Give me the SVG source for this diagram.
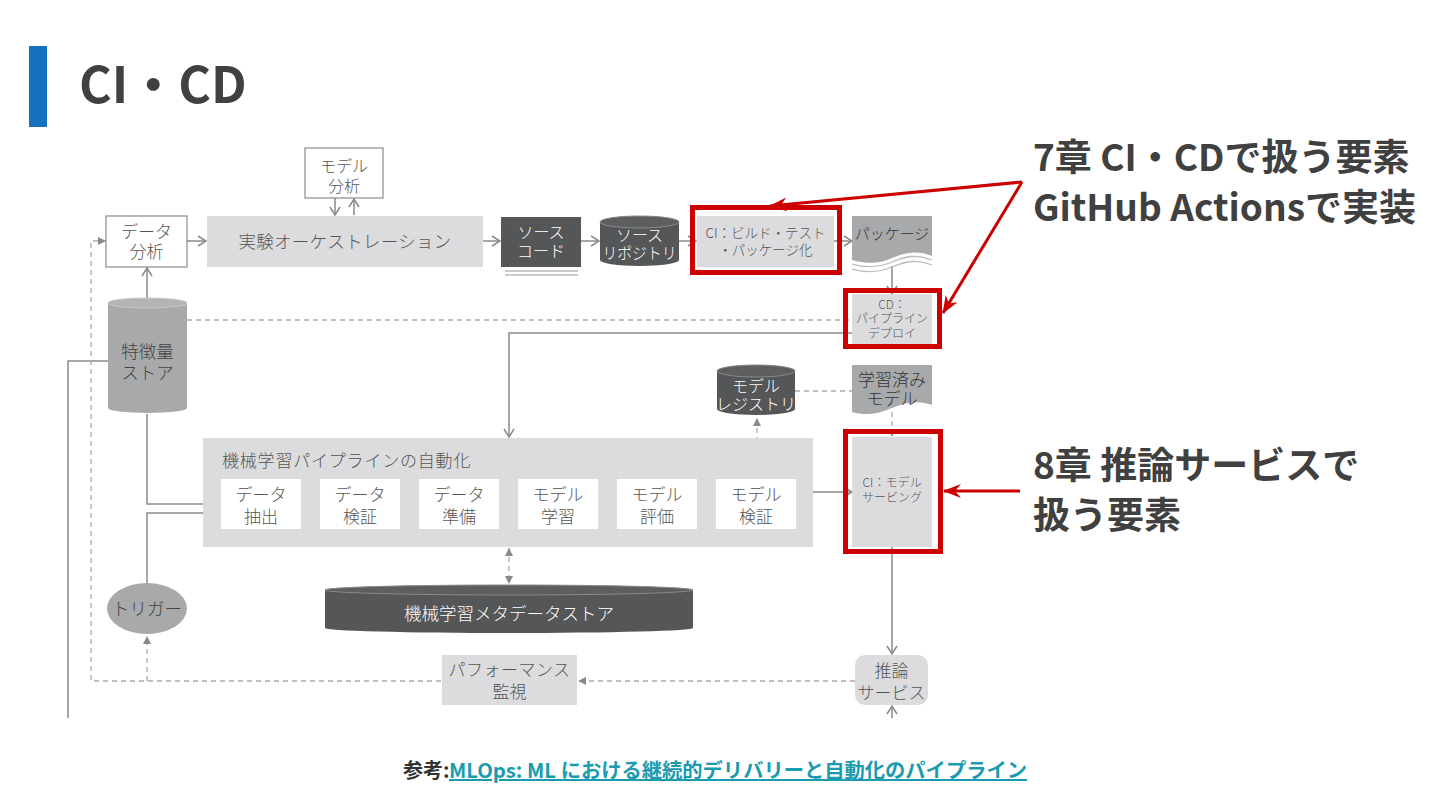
<svg xmlns="http://www.w3.org/2000/svg" width="1440" height="810" viewBox="0 0 1440 810">
<defs>
<style>
text{font-family:"Noto Sans CJK JP","Noto Sans",sans-serif;}
.t{font-size:17px;fill:#555;text-anchor:middle;font-weight:300;}
.w{font-size:16px;fill:#fff;text-anchor:middle;font-weight:300;}
.s{font-size:12px;fill:#555;text-anchor:middle;font-weight:300;}
.lb{fill:#dcdcde;}
.dk{fill:#555658;}
.md{fill:#a8a9ab;}
.wb{fill:#fff;}
.ob{fill:#fff;stroke:#8a8a8a;stroke-width:1.2;}
.c{fill:none;stroke:#8a8a8a;stroke-width:1.5;}
.d{fill:none;stroke:#aaa;stroke-width:1.3;stroke-dasharray:5 4;}
.rb{fill:none;stroke:#cc0000;stroke-width:5;}
.rl{fill:none;stroke:#cc0000;stroke-width:3;}
.big{font-size:37px;font-weight:700;fill:#404040;}
</style>
<marker id="a" viewBox="0 0 10 12" refX="9" refY="6" markerWidth="10" markerHeight="12" markerUnits="userSpaceOnUse" orient="auto"><path d="M1,1 L9,6 L1,11" fill="none" stroke="#8a8a8a" stroke-width="1.5"/></marker>
<marker id="tr" viewBox="0 0 8 8" refX="8" refY="4" markerWidth="8" markerHeight="8" markerUnits="userSpaceOnUse" orient="auto-start-reverse"><path d="M0,0 L8,4 L0,8 Z" fill="#8a8a8a"/></marker>
<marker id="r" viewBox="0 0 18 14" refX="17" refY="7" markerWidth="18" markerHeight="14" markerUnits="userSpaceOnUse" orient="auto"><path d="M0,0 L18,7 L0,14 L6,7 Z" fill="#cc0000"/></marker>
</defs>
<rect width="1440" height="810" fill="#fff"/>

<g id="title">
<rect x="29" y="46" width="18" height="81" fill="#1570c0"/>
<text x="79" y="103" style="font-size:50px;font-weight:700;fill:#404040">CI・CD</text>
</g>

<g id="connectors">
<line class="c" x1="335" y1="198" x2="335" y2="215" marker-end="url(#a)"/>
<line class="c" x1="354" y1="215" x2="354" y2="199" marker-end="url(#a)"/>
<line class="c" x1="187" y1="241" x2="206" y2="241" marker-end="url(#a)"/>
<line class="c" x1="483" y1="241" x2="500" y2="241" marker-end="url(#a)"/>
<line class="c" x1="581" y1="241" x2="599" y2="241" marker-end="url(#a)"/>
<line class="c" x1="679" y1="241" x2="696" y2="241" marker-end="url(#a)"/>
<line class="c" x1="834" y1="241" x2="852" y2="241" marker-end="url(#a)"/>
<line class="c" x1="892" y1="266" x2="892" y2="294" marker-end="url(#a)"/>
<line class="c" x1="147" y1="298" x2="147" y2="268" marker-end="url(#a)"/>
<polyline class="c" points="852,333 509,333 509,437" marker-end="url(#a)"/>
<polyline class="c" points="147,414 147,504 220,504" marker-end="url(#a)"/>
<polyline class="c" points="147,583 147,513 220,513" marker-end="url(#a)"/>
<line class="c" x1="302" y1="504" x2="319" y2="504" marker-end="url(#a)"/>
<line class="c" x1="401" y1="504" x2="418" y2="504" marker-end="url(#a)"/>
<line class="c" x1="500" y1="504" x2="517" y2="504" marker-end="url(#a)"/>
<line class="c" x1="599" y1="504" x2="616" y2="504" marker-end="url(#a)"/>
<line class="c" x1="698" y1="504" x2="715" y2="504" marker-end="url(#a)"/>
<line class="c" x1="813" y1="492" x2="852" y2="492" marker-end="url(#a)"/>
<line class="c" x1="892" y1="547" x2="892" y2="654" marker-end="url(#a)"/>
<line class="c" x1="892" y1="718" x2="892" y2="706" marker-end="url(#a)"/>
<polyline class="c" points="108,361 68,361 68,718"/>
<line class="d" x1="187" y1="320" x2="852" y2="320"/>
<line class="d" x1="855" y1="681" x2="578" y2="681" marker-end="url(#tr)"/>
<polyline class="d" points="441,681 91,681 91,241 106,241" marker-end="url(#tr)"/>
<line class="d" x1="147" y1="681" x2="147" y2="636" marker-end="url(#tr)"/>
<line class="d" x1="757" y1="478" x2="757" y2="418" marker-end="url(#tr)"/>
<line class="d" x1="795" y1="391" x2="852" y2="391"/>
<line class="d" x1="892" y1="412" x2="892" y2="437" marker-end="url(#tr)"/>
<line class="d" x1="509" y1="548" x2="509" y2="584" marker-start="url(#tr)" marker-end="url(#tr)"/>
</g>

<g id="model-analysis">
<rect class="ob" x="305" y="148" width="78" height="50"/>
<text class="t" style="font-size:16px" x="344" y="172">モデル</text>
<text class="t" style="font-size:16px" x="344" y="192">分析</text>
</g>

<g id="data-analysis">
<rect class="ob" x="106" y="216" width="81" height="51"/>
<text class="t" x="146.5" y="238">データ</text>
<text class="t" x="146.5" y="258">分析</text>
</g>

<g id="experiment">
<rect class="lb" x="207" y="216" width="276" height="51"/>
<text class="t" x="345" y="248" style="font-size:17.5px;letter-spacing:0.3px">実験オーケストレーション</text>
</g>

<g id="source-code">
<rect class="dk" x="501" y="217" width="80" height="50"/>
<line x1="505" y1="271" x2="578" y2="271" stroke="#999" stroke-width="1.2"/>
<line x1="505" y1="275" x2="578" y2="275" stroke="#999" stroke-width="1.2"/>
<text class="w" x="541" y="238">ソース</text>
<text class="w" x="541" y="257">コード</text>
</g>

<g id="source-repo">
<path class="dk" d="M600,222 A39.5,6 0 0 1 679,222 V260 A39.5,6 0 0 1 600,260 Z"/>
<ellipse cx="639.5" cy="222" rx="39.5" ry="6" fill="#5d5e60" stroke="#8a8a8a" stroke-width="1"/>
<text class="w" x="639.5" y="241">ソース</text>
<text class="w" x="639.5" y="259" textLength="74" lengthAdjust="spacingAndGlyphs">リポジトリ</text>
</g>

<g id="ci-build">
<rect class="lb" x="697" y="216" width="137" height="51"/>
<rect class="rb" x="692.5" y="207.5" width="147" height="65"/>
<text class="t" x="765.5" y="238" style="font-size:13.5px">CI：ビルド・テスト</text>
<text class="t" x="765.5" y="255" style="font-size:13.5px">・パッケージ化</text>
</g>

<g id="package">
<path class="md" d="M852,216 H932 V256 C918,250 906,252 892,258 C878,264 866,264 852,260 Z"/>
<path d="M852,264 C866,268 878,268 892,262 C906,256 918,254 932,260" fill="none" stroke="#bbb" stroke-width="1.3"/>
<path d="M852,269 C866,273 878,273 892,267 C906,261 918,259 932,265" fill="none" stroke="#bbb" stroke-width="1.3"/>
<text class="t" x="892" y="239" style="font-size:15px;fill:#333">パッケージ</text>
</g>

<g id="cd-deploy">
<rect class="lb" x="852" y="294" width="80" height="50"/>
<rect class="rb" x="845.5" y="290.5" width="94" height="56"/>
<text class="s" x="892" y="309">CD：</text>
<text class="s" x="892" y="323">パイプライン</text>
<text class="s" x="892" y="338">デプロイ</text>
</g>

<g id="feature-store">
<path class="md" d="M108,303 A39.5,5 0 0 1 187,303 V408 A39.5,5 0 0 1 108,408 Z"/>
<ellipse cx="147.5" cy="303" rx="39.5" ry="5" fill="#b3b4b6" stroke="#c8c8c8" stroke-width="1"/>
<text class="t" x="147.5" y="358" style="fill:#444;font-size:17.5px">特徴量</text>
<text class="t" x="147.5" y="379" style="fill:#444;font-size:17.5px">ストア</text>
</g>

<g id="model-registry">
<path class="dk" d="M717,371 A39,6 0 0 1 795,371 V409 A39,6 0 0 1 717,409 Z"/>
<ellipse cx="756" cy="371" rx="39" ry="6" fill="#5d5e60" stroke="#8a8a8a" stroke-width="1"/>
<text class="w" x="756" y="392">モデル</text>
<text class="w" x="756" y="410">レジストリ</text>
</g>

<g id="trained-model">
<path class="md" d="M852,365 H932 V405 C918,400 906,402 892,408 C878,414 866,416 852,412 Z"/>
<text class="t" x="892" y="386" style="fill:#333">学習済み</text>
<text class="t" x="892" y="405" style="fill:#333">モデル</text>
</g>

<g id="pipeline">
<rect class="lb" x="203" y="438" width="610" height="109"/>
<text x="222" y="467" style="font-size:17px;fill:#555;font-weight:300;letter-spacing:0.8px">機械学習パイプラインの自動化</text>
</g>

<g id="data-extract">
<rect class="wb" x="221" y="479" width="80" height="50"/>
<text class="t" x="261" y="501">データ</text>
<text class="t" x="261" y="523">抽出</text>
</g>
<g id="data-validate">
<rect class="wb" x="320" y="479" width="80" height="50"/>
<text class="t" x="360" y="501">データ</text>
<text class="t" x="360" y="523">検証</text>
</g>
<g id="data-prepare">
<rect class="wb" x="419" y="479" width="80" height="50"/>
<text class="t" x="459" y="501">データ</text>
<text class="t" x="459" y="523">準備</text>
</g>
<g id="model-train">
<rect class="wb" x="518" y="479" width="80" height="50"/>
<text class="t" x="558" y="501">モデル</text>
<text class="t" x="558" y="523">学習</text>
</g>
<g id="model-eval">
<rect class="wb" x="617" y="479" width="80" height="50"/>
<text class="t" x="657" y="501">モデル</text>
<text class="t" x="657" y="523">評価</text>
</g>
<g id="model-validate">
<rect class="wb" x="716" y="479" width="80" height="50"/>
<text class="t" x="756" y="501">モデル</text>
<text class="t" x="756" y="523">検証</text>
</g>

<g id="ci-serving">
<rect class="lb" x="852" y="437" width="80" height="110"/>
<rect class="rb" x="845.5" y="431.5" width="95" height="120"/>
<text class="s" x="892" y="487">CI：モデル</text>
<text class="s" x="892" y="502">サービング</text>
</g>

<g id="trigger">
<ellipse class="md" cx="147" cy="608.5" rx="40" ry="25.5"/>
<text class="t" x="147" y="615" style="fill:#444;font-size:17.5px">トリガー</text>
</g>

<g id="metadata-store">
<path class="dk" d="M325,590 A184,5 0 0 1 693,590 V628 A184,5 0 0 1 325,628 Z"/>
<ellipse cx="509" cy="590" rx="184" ry="5" fill="#5d5e60" stroke="#8a8a8a" stroke-width="1"/>
<text class="w" x="509" y="620" style="font-size:17.5px">機械学習メタデータストア</text>
</g>

<g id="performance-monitor">
<rect class="lb" x="442" y="655" width="135" height="50"/>
<text class="t" x="509.5" y="676" style="letter-spacing:0.5px">パフォーマンス</text>
<text class="t" x="509.5" y="698">監視</text>
</g>

<g id="inference-service">
<rect class="lb" x="855" y="655" width="73" height="50" rx="10"/>
<text class="t" x="891.5" y="677">推論</text>
<text class="t" x="891.5" y="699">サービス</text>
</g>

<g id="annotations">
<text class="big" x="1033" y="171">7章 CI・CDで扱う要素</text>
<text class="big" x="1033" y="221">GitHub Actionsで実装</text>
<text class="big" x="1033" y="479">8章 推論サービスで</text>
<text class="big" x="1033" y="529">扱う要素</text>
<line class="rl" x1="1022" y1="182" x2="770" y2="206" marker-end="url(#r)"/>
<line class="rl" x1="1022" y1="182" x2="943" y2="313" marker-end="url(#r)"/>
<line class="rl" x1="1020" y1="491" x2="944" y2="491" marker-end="url(#r)"/>
</g>

<g id="footer">
<text x="403" y="778" style="font-size:20px;font-weight:700;fill:#333">参考:</text>
<text x="449" y="778" textLength="578" lengthAdjust="spacingAndGlyphs" style="font-size:20px;font-weight:700;fill:#1a9bb0;text-decoration:underline">MLOps: ML における継続的デリバリーと自動化のパイプライン</text>
</g>
</svg>
